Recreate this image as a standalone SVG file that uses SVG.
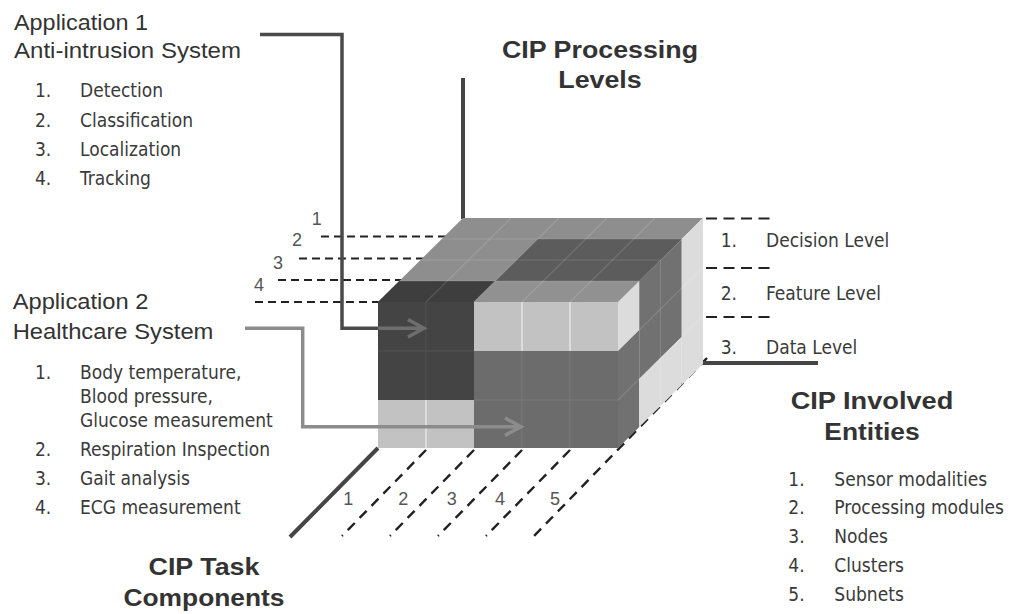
<svg xmlns="http://www.w3.org/2000/svg" width="1016" height="614" viewBox="0 0 1016 614">
<style>
.t{font-family:"Liberation Sans",Arial,sans-serif;font-size:22px;fill:#333}
.b{font-family:"Liberation Sans",Arial,sans-serif;font-weight:bold;font-size:23px;fill:#333;text-anchor:middle}
.l{font-family:"DejaVu Sans Condensed","DejaVu Sans",sans-serif;font-stretch:condensed;font-size:19px;fill:#3a3a3a}
.n{font-family:"Liberation Sans",Arial,sans-serif;font-size:18px;fill:#555;text-anchor:middle}
.dh{stroke:#222;stroke-width:2.2;stroke-dasharray:8 5;fill:none}
.dr{stroke:#222;stroke-width:2.2;stroke-dasharray:11 6.5;fill:none}
.dd{stroke:#222;stroke-width:2.4;stroke-dasharray:10 7;fill:none}
.ax{stroke:#454545;stroke-width:4;fill:none}
.g{stroke:#fff;stroke-opacity:0.13;stroke-width:1.2;fill:none}
</style>
<rect width="1016" height="614" fill="#fff"/>

<g id="connectors-back">
<line class="dh" x1="321" y1="236.5" x2="460" y2="236.5"/>
<line class="dh" x1="299" y1="258.5" x2="440" y2="258.5"/>
<line class="dh" x1="278" y1="280" x2="420" y2="280"/>
<line class="dh" x1="255" y1="302" x2="380" y2="302"/>
<line class="dr" x1="706" y1="218.5" x2="775" y2="218.5"/>
<line class="dr" x1="706" y1="268" x2="775" y2="268"/>
<line class="dr" x1="706" y1="317" x2="775" y2="317"/>
<line class="dd" x1="426" y1="450" x2="342" y2="536"/>
<line class="dd" x1="474" y1="450" x2="390" y2="536"/>
<line class="dd" x1="522" y1="450" x2="438" y2="536"/>
<line class="dd" x1="570" y1="450" x2="486" y2="536"/>
<line class="dd" x1="707" y1="358" x2="534" y2="536"/>
<line class="ax" x1="463" y1="78" x2="463" y2="219"/>
<line class="ax" x1="378" y1="448" x2="290" y2="537"/>
<line class="ax" x1="701" y1="363" x2="818" y2="363"/>
</g>

<g id="cube">
<polygon points="378,302 618,302 703,218 463,218" fill="#8e8e8e"/>
<polygon points="495.25,281 639.25,281 681.75,239 537.75,239" fill="#5c5c5c"/>
<polygon points="378,302 474,302 495.25,281 399.25,281" fill="#3e3e3e"/>
<polygon points="474,302 618,302 639.25,281 495.25,281" fill="#919191"/>
<g class="g">
<line x1="399.25" y1="281" x2="639.25" y2="281"/>
<line x1="420.5" y1="260" x2="660.5" y2="260"/>
<line x1="441.75" y1="239" x2="681.75" y2="239"/>
<line x1="426" y1="302" x2="511" y2="218"/>
<line x1="474" y1="302" x2="559" y2="218"/>
<line x1="522" y1="302" x2="607" y2="218"/>
<line x1="570" y1="302" x2="655" y2="218"/>
</g>
<rect x="378" y="302" width="96" height="98" fill="#444"/>
<rect x="378" y="400" width="96" height="48" fill="#c2c2c2"/>
<rect x="474" y="302" width="144" height="49" fill="#c2c2c2"/>
<rect x="474" y="351" width="144" height="97" fill="#6c6c6c"/>
<g stroke-width="1.5">
<line x1="426" y1="302" x2="426" y2="400" stroke="#4e4e4e"/>
<line x1="378" y1="351" x2="474" y2="351" stroke="#4e4e4e"/>
<line x1="426" y1="400" x2="426" y2="448" stroke="#e6e6e6"/>
<line x1="522" y1="302" x2="522" y2="351" stroke="#e6e6e6"/>
<line x1="570" y1="302" x2="570" y2="351" stroke="#e6e6e6"/>
<line x1="522" y1="351" x2="522" y2="448" stroke="#767676"/>
<line x1="570" y1="351" x2="570" y2="448" stroke="#767676"/>
<line x1="474" y1="400" x2="618" y2="400" stroke="#767676"/>
</g>
<polygon points="618,302 639.25,281 639.25,330 618,351" fill="#dcdcdc"/>
<polygon points="618,351 639.25,330 639.25,427 618,448" fill="#717171"/>
<polygon points="639.25,281 681.75,239 681.75,337 639.25,379" fill="#717171"/>
<polygon points="639.25,379 681.75,337 681.75,385 639.25,427" fill="#dcdcdc"/>
<polygon points="681.75,239 703,218 703,364 681.75,385" fill="#dcdcdc"/>
<g class="g">
<line x1="660.5" y1="260" x2="660.5" y2="406"/>
<line x1="618" y1="400" x2="681.75" y2="337"/>
<line x1="639.25" y1="330" x2="703" y2="267"/>
<line x1="681.75" y1="336" x2="703" y2="316"/>
</g>
</g>

<g id="connectors">
<path d="M260,34.5 H342 V328.3 H378" fill="none" stroke="#4a4a4a" stroke-width="3.5"/>
<path d="M378,328.3 H423 M408,319.5 L424,328.3 L408,337" fill="none" stroke="#6e6e6e" stroke-width="3.5"/>
<path d="M245,328.3 H302.7 V426.7 H520 M505,418 L521,426.7 L505,435.4" fill="none" stroke="#8c8c8c" stroke-width="3.5"/>
</g>

<g id="depth-labels">
<text class="n" x="316.7" y="225">1</text>
<text class="n" x="297" y="246">2</text>
<text class="n" x="278" y="269">3</text>
<text class="n" x="259" y="291">4</text>
</g>
<g id="entity-labels">
<text class="n" x="348.3" y="505">1</text>
<text class="n" x="403.3" y="505">2</text>
<text class="n" x="451.7" y="505">3</text>
<text class="n" x="500" y="505">4</text>
<text class="n" x="555" y="505">5</text>
</g>

<g id="app1">
<text class="t" x="14" y="29.5" textLength="134" lengthAdjust="spacingAndGlyphs">Application 1</text>
<text class="t" x="14" y="57.5" textLength="227" lengthAdjust="spacingAndGlyphs">Anti-intrusion System</text>
<text class="l" x="35" y="97.3">1.</text><text class="l" x="80" y="97.3">Detection</text>
<text class="l" x="35" y="126.7">2.</text><text class="l" x="80" y="126.7">Classification</text>
<text class="l" x="35" y="155.7">3.</text><text class="l" x="80" y="155.7">Localization</text>
<text class="l" x="35" y="185">4.</text><text class="l" x="80" y="185">Tracking</text>
</g>

<g id="app2">
<text class="t" x="12.7" y="309.3" textLength="135.7" lengthAdjust="spacingAndGlyphs">Application 2</text>
<text class="t" x="12.7" y="339.3" textLength="200.7" lengthAdjust="spacingAndGlyphs">Healthcare System</text>
<text class="l" x="35" y="379">1.</text><text class="l" x="80" y="379">Body temperature,</text>
<text class="l" x="80" y="403">Blood pressure,</text>
<text class="l" x="80" y="426.5">Glucose measurement</text>
<text class="l" x="35" y="456">2.</text><text class="l" x="80" y="456">Respiration Inspection</text>
<text class="l" x="35" y="485">3.</text><text class="l" x="80" y="485">Gait analysis</text>
<text class="l" x="35" y="514">4.</text><text class="l" x="80" y="514">ECG measurement</text>
</g>

<g id="levels-title">
<text class="b" x="600" y="57.5" textLength="196" lengthAdjust="spacingAndGlyphs">CIP Processing</text>
<text class="b" x="600" y="88.3" textLength="83.4" lengthAdjust="spacingAndGlyphs">Levels</text>
</g>
<g id="levels-list">
<text class="l" x="720.7" y="246.7">1.</text><text class="l" x="766" y="246.7">Decision Level</text>
<text class="l" x="720.7" y="300">2.</text><text class="l" x="766" y="300">Feature Level</text>
<text class="l" x="720.7" y="354.3">3.</text><text class="l" x="766" y="354.3">Data Level</text>
</g>

<g id="entities-title">
<text class="b" x="872" y="409.3" textLength="162.7" lengthAdjust="spacingAndGlyphs">CIP Involved</text>
<text class="b" x="872" y="440" textLength="95.3" lengthAdjust="spacingAndGlyphs">Entities</text>
</g>
<g id="entities-list">
<text class="l" x="788.3" y="485.5">1.</text><text class="l" x="834.3" y="485.5">Sensor modalities</text>
<text class="l" x="788.3" y="514.3">2.</text><text class="l" x="834.3" y="514.3">Processing modules</text>
<text class="l" x="788.3" y="543">3.</text><text class="l" x="834.3" y="543">Nodes</text>
<text class="l" x="788.3" y="571.8">4.</text><text class="l" x="834.3" y="571.8">Clusters</text>
<text class="l" x="788.3" y="600.6">5.</text><text class="l" x="834.3" y="600.6">Subnets</text>
</g>

<g id="task-title">
<text class="b" x="204" y="575" textLength="111" lengthAdjust="spacingAndGlyphs">CIP Task</text>
<text class="b" x="204" y="606" textLength="161" lengthAdjust="spacingAndGlyphs">Components</text>
</g>
</svg>
